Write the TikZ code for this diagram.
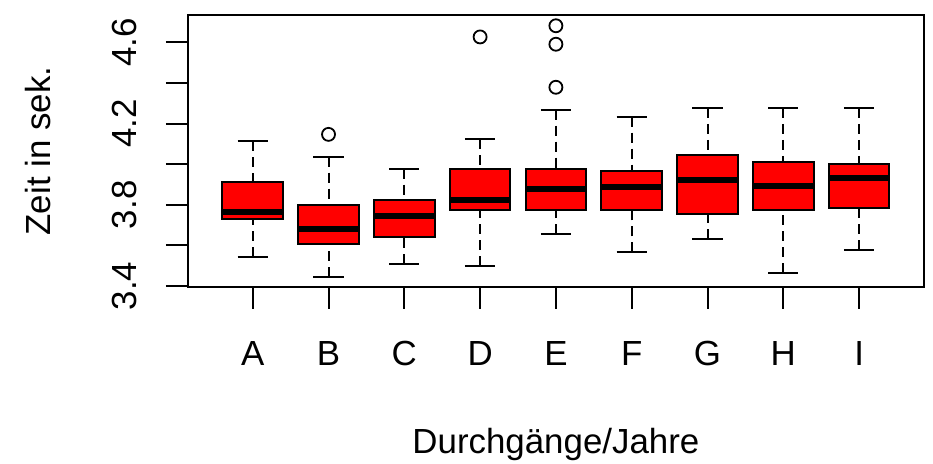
\documentclass[tikz,border=0pt]{standalone}
\usepackage{fontspec}
\setmainfont{Liberation Sans}
\usepackage{tikz}

\begin{document}
\begin{tikzpicture}[x=75.8bp, y=203bp,
    every node/.style={font=\fontsize{35}{40}\selectfont, inner sep=0pt},
    frameline/.style={line width=2bp},
    whisk/.style={line width=2bp, dash pattern=on 10bp off 6bp},
    boxfill/.style={fill=red, draw=black, line width=2bp},
    medline/.style={line width=6bp}]

                \useasboundingbox (-2.334,2.528) rectangle (9.975,4.809);

                % Frame and y axis
                \draw[frameline] (0.14,3.394) rectangle (9.86,4.736);
                \foreach \v in {3.4,3.6,3.8,4.0,4.2,4.4,4.6}
                    \draw[frameline] (-0.144,\v) -- (0.14,\v);
                \foreach \v/\n in {3.4/a,3.8/b,4.2/c,4.6/d}
                    \node[rotate=90, anchor=base] (ytick\n) at (-0.53,\v) {\v};
                \node[rotate=90, anchor=base] (ylabel) at (-1.674,4.065) {Zeit in sek.};

                % Boxes
                \foreach \i/\l/\lw/\qa/\md/\qc/\uw in {
                    1/A/3.544/3.732/3.763/3.911/4.113,
                    2/B/3.446/3.608/3.679/3.800/4.037,
                    3/C/3.510/3.643/3.745/3.824/3.978,
                    4/D/3.499/3.776/3.822/3.978/4.124,
                    5/E/3.655/3.776/3.879/3.976/4.269,
                    6/F/3.566/3.776/3.889/3.967/4.234,
                    7/G/3.633/3.756/3.922/4.045/4.278,
                    8/H/3.466/3.776/3.891/4.011/4.278,
                    9/I/3.579/3.786/3.934/4.001/4.278}
                {
                    \draw[whisk] (\i,\lw) -- (\i,\qa);
                    \draw[whisk] (\i,\uw) -- (\i,\qc);
                    \draw[frameline] (\i-0.2,\lw) -- (\i+0.2,\lw);
                    \draw[frameline] (\i-0.2,\uw) -- (\i+0.2,\uw);
                    \draw[boxfill] (\i-0.4,\qa) rectangle (\i+0.4,\qc);
                    \draw[medline] (\i-0.4,\md) -- (\i+0.4,\md);
                    \draw[frameline] (\i,3.394) -- (\i,3.285);
                    \node[anchor=base] (xtick\l) at (\i,3.006) {\l};
                }

                % Outliers
                \foreach \i/\v in {2/4.147, 4/4.627, 5/4.682, 5/4.591, 5/4.379}
                    \draw[line width=1.8bp] (\i,\v) circle[radius=6.5bp];

                \node[anchor=base] (xlabel) at (5,2.576) {Durchgänge/Jahre};

\end{tikzpicture}
\end{document}
